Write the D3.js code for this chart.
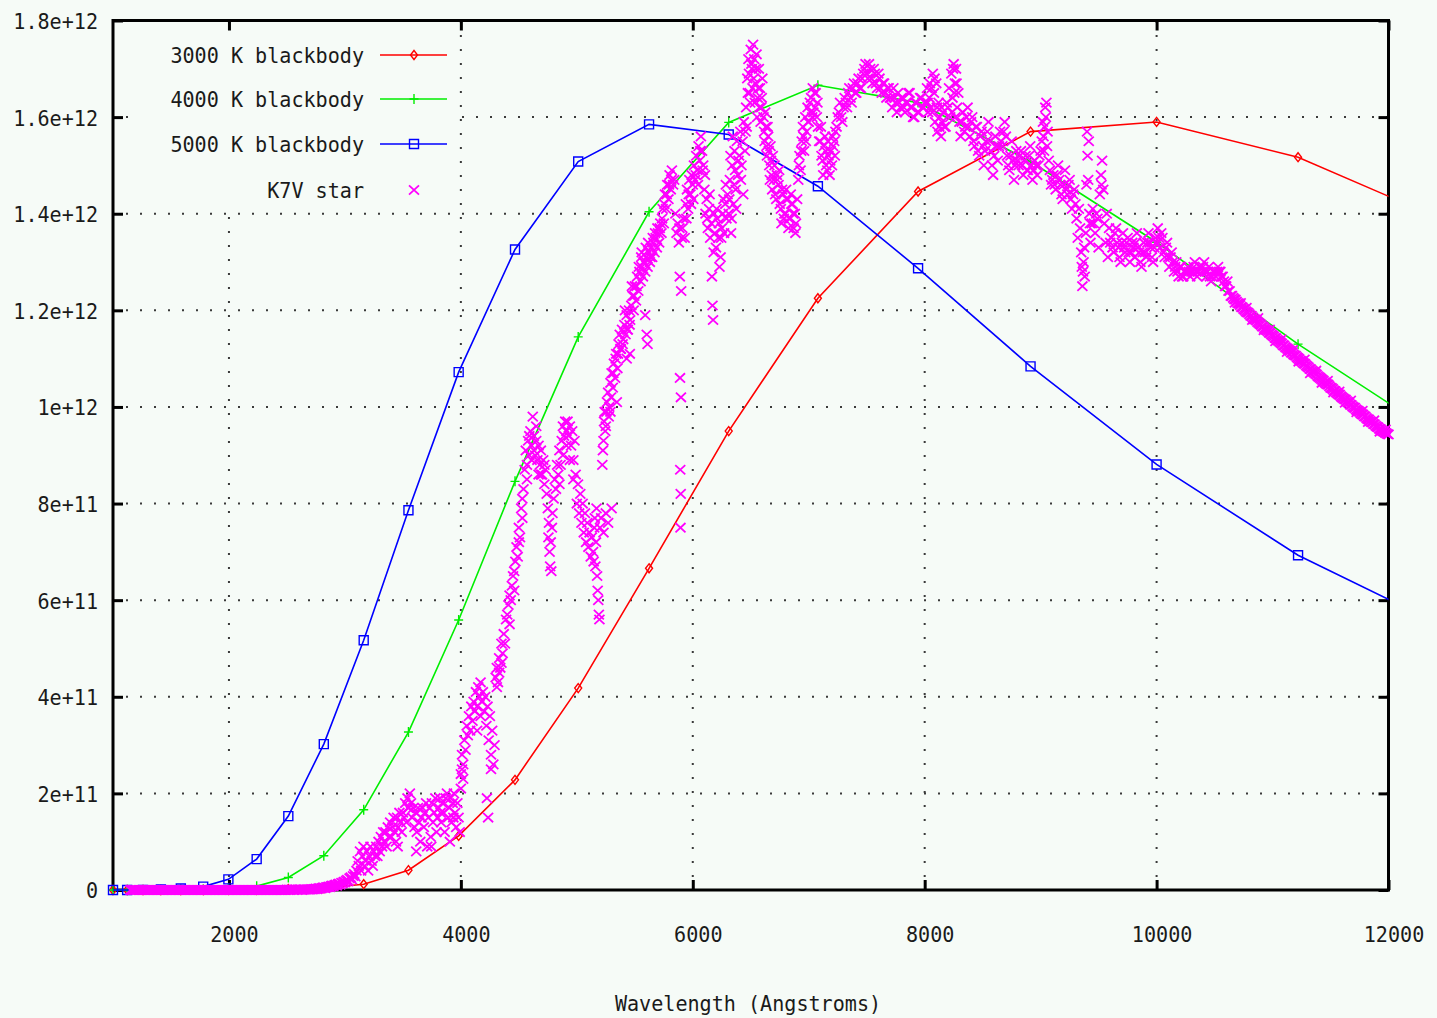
<!DOCTYPE html>
<html><head><meta charset="utf-8">
<script src="https://cdn.jsdelivr.net/npm/d3@7"></script>
<style>html,body{margin:0;padding:0;background:#f6fbf7;}svg{display:block}</style>
</head><body>
<svg id="chart" width="1437" height="1018"></svg>
<script>
// ---------- data (flux in units of 1e10) ----------
const bbWave = [1000,1122,1259,1413,1585,1778,1995,2239,2512,2818,3162,3548,3981,4467,5012,5623,6310,7079,7943,8913,10000,11220,12589];
const bb3000 = [0,0,0,0,0,0,0.01,0.05,0.2,0.4,1.2,4.1,11.2,22.8,41.8,66.6,95.0,122.5,144.6,157.0,159.0,151.7,137.5];
const bb4000 = [0,0,0,0,0.03,0.1,0.3,0.8,2.6,7.1,16.6,32.7,55.9,84.6,114.5,140.4,158.9,166.6,163.0,150.8,134.1,113.0,91.6];
const bb5000 = [0,0,0.02,0.1,0.3,0.7,2.2,6.4,15.3,30.2,51.7,78.6,107.2,132.6,150.8,158.5,156.4,145.7,128.7,108.4,88.1,69.3,53.3];

const starUV = [
[1150,0],[1160,0],[1170,0],[1180,0],[1190,0],[1200,0],[1210,0],[1220,0],[1230,0],[1240,0],
[1250,0],[1260,0],[1270,0],[1280,0],[1290,0],[1300,0],[1310,0],[1320,0],[1330,0],[1340,0],
[1350,0],[1360,0],[1370,0],[1380,0],[1390,0],[1400,0],[1410,0],[1420,0],[1430,0],[1440,0],
[1450,0],[1460,0],[1470,0],[1480,0],[1490,0],[1500,0],[1510,0],[1520,0],[1530,0],[1540,0],
[1550,0],[1560,0],[1570,0],[1580,0],[1590,0],[1600,0],[1610,0],[1620,0],[1630,0],[1640,0],
[1650,0],[1660,0],[1670,0],[1680,0],[1690,0],[1700,0],[1710,0],[1720,0],[1730,0],[1740,0],
[1750,0],[1760,0],[1770,0],[1780,0],[1790,0],[1800,0],[1810,0],[1820,0],[1830,0],[1840,0],
[1850,0],[1860,0],[1870,0],[1880,0],[1890,0],[1900,0],[1910,0],[1920,0],[1930,0],[1940,0],
[1950,0],[1960,0],[1970,0],[1980,0],[1990,0],[2000,0],[2010,0],[2020,0],[2030,0],[2040,0],
[2050,0],[2060,0],[2070,0],[2080,0],[2090,0],[2100,0],[2110,0],[2120,0],[2130,0],[2140,0],
[2150,0],[2160,0],[2170,0],[2180,0],[2190,0],[2200,0],[2210,0],[2220,0],[2230,0],[2240,0],
[2250,0],[2260,0],[2270,0],[2280,0],[2290,0],[2300,0],[2310,0],[2320,0],[2330,0],[2340,0],
[2350,0],[2360,0],[2370,0],[2380,0],[2390,0],[2400,0],[2410,0],[2420,0],[2430,0],[2440,0],
[2450,0],[2460,0],[2470,0],[2480,0],[2490,0],[2500,0.1],[2510,0],[2520,0.1],[2530,0],[2540,0.1],
[2550,0.1],[2560,0],[2570,0.1],[2580,0.1],[2590,0],[2600,0.1],[2610,0.1],[2620,0.1],[2630,0],[2640,0.1],
[2650,0.1],[2660,0.1],[2670,0.1],[2680,0.1],[2690,0.1]
];

const starNearUV = [
[2700,0.1],[2710,0.2],[2720,0.1],[2730,0.2],[2740,0.2],[2750,0.3],[2760,0.2],[2770,0.3],[2780,0.4],[2790,0.3],
[2800,0.4],[2810,0.5],[2820,0.5],[2830,0.4],[2840,0.6],[2850,0.6],[2860,0.7],[2870,0.6],[2880,0.8],[2890,0.9],
[2900,0.8],[2910,1.0],[2920,1.1],[2930,0.9],[2940,1.2],[2950,1.3],[2960,1.1],[2970,1.5],[2980,1.4],[2990,1.7],
[3000,1.6],[3010,1.9],[3020,2.1],[3030,1.8],[3040,2.4],[3050,2.6],[3060,2.2],[3070,2.9],[3080,3.3],[3090,2.8],
[3100,4],[3110,6],[3120,5],[3130,8],[3140,4],[3150,7],[3160,9],[3170,5],[3180,6],[3190,8],
[3200,4],[3210,7],[3220,9],[3230,6],[3240,5],[3250,8],[3260,7],[3270,9],[3280,7],[3290,10],
[3300,8],[3310,11],[3320,9],[3330,12],[3340,10],
[3350,12],[3360,9],[3370,13],[3380,11],[3390,14],[3400,11],[3410,13],[3420,15],[3430,12],[3440,10],
[3450,15],[3460,13],[3470,16],[3480,14],[3490,12],[3500,16],[3510,15],[3520,18],[3530,14],[3540,19],
[3550,17],[3560,20],[3570,18],[3580,15],[3590,17],[3600,13],[3610,16],[3620,12],[3630,17],[3640,14],
[3650,10],[3660,15],[3670,17],[3680,13],[3690,16],[3700,18],[3710,9],[3720,15],[3730,17],[3740,11],
[3750,18],[3760,14],[3770,16],[3780,19],[3790,12],[3800,15],[3810,17],[3820,19],[3830,14],[3840,18],
[3850,16],[3860,12],[3870,19],[3880,20],[3890,15],[3900,17],[3910,19],[3920,14],[3930,18],[3940,20],
[3950,16],[3960,13],[3970,18],[3980,15],[3990,12],
[3455,9],[3615,8],[3745,9],[3905,10],[3545,17],[3825,16],[3935,15]
];

const starBlue = [
[4000,24],[4010,28],[4020,26],[4030,31],[4040,29],[4050,34],[4060,32],[4070,36],[4080,33],[4090,38],
[4100,35],[4110,39],[4120,37],[4130,41],[4140,38],[4150,42],[4160,40],[4170,43],[4180,39],[4190,41],
[4200,37],[4210,40],[4220,34],[4230,38],[4240,31],[4250,36],[4260,28],[4270,33],[4280,26],[4290,30],
[4000,21],[4010,25],[4020,23],[4140,33],[4170,36],[4260,25],[4225,19],[4235,15],
[4300,44],[4310,46],[4320,43],[4330,48],[4340,46],[4350,51],[4360,49],[4370,53],[4380,51],[4390,56],
[4310,42],[4330,45],[4350,47],
[4400,57],[4410,59],[4420,61],[4430,60],[4440,63],[4450,65],[4460,62],[4470,68],[4480,71],[4490,69],
[4500,75],[4510,73],[4520,79],[4530,77],[4540,83],[4420,55],[4460,66],[4500,72],[4530,81],
[4550,87],[4560,91],[4570,88],[4580,93],[4590,90],[4600,95],[4610,92],[4620,98],[4630,94],[4640,90],
[4650,93],[4660,89],[4670,92],[4680,88],[4690,91],[4700,86],[4710,89],[4720,84],[4730,87],[4740,82],
[4570,85],[4590,94],[4610,89],[4630,91],[4650,96],[4670,86],[4690,86],[4720,88],
[4750,79],[4755,73],[4760,76],[4765,70],[4770,67],[4775,72],[4780,66],[4785,75],[4790,78],
[4800,81],[4810,85],[4820,83],[4830,88],[4840,86],[4850,91],[4860,88],[4870,93],[4880,96],[4890,94],
[4900,97],[4910,95],[4920,97],[4930,94],[4940,96],[4950,92],[4960,95],[4970,89],[4980,93],[4990,86],
[4850,84],[4880,90],[4910,92],[4940,89],[4970,85],
[5000,80],[5010,84],[5020,78],[5030,82],[5040,76],[5050,80],[5060,74],[5070,78],[5080,72],[5090,76],
[5100,71],[5110,74],[5120,69],[5130,73],[5140,70],[5150,75],[5160,67],[5170,79],[5180,62],[5190,57],[5200,75],
[5185,60],[5195,56],[5175,65],[5165,72],[5155,77],[5145,68],
[5210,77],[5230,74],[5250,78],[5270,76],[5300,79]
];

const starGreen = [
[5220,88],[5230,93],[5240,99],[5250,96],[5260,101],[5270,103],[5280,100],[5290,105],[5300,107],[5310,104],
[5320,109],[5330,106],[5340,111],[5350,108],[5360,113],[5370,115],[5380,112],[5390,116],
[5400,114],[5410,117],[5420,115],[5430,119],[5440,116],[5450,120],[5460,118],[5470,121],[5480,123],[5490,120],
[5500,125],[5510,122],[5520,127],[5530,124],[5540,128],[5550,126],[5560,129],[5570,127],[5580,130],[5590,128],
[5600,131],[5610,129],[5620,132],[5630,130],[5640,133],[5650,131],[5660,134],[5670,132],[5680,135],[5690,133],
[5700,136],[5710,134],[5720,138],[5730,136],[5740,141],[5750,138],[5760,144],[5770,141],[5780,146],[5790,143],
[5800,148],[5810,145],[5820,149],[5830,146],[5840,147],
[5225,91],[5235,97],[5245,95],[5255,99],[5275,98],[5295,102],[5315,107],[5335,110],[5355,111],[5375,112],
[5395,113],[5415,120],[5435,116],[5455,117],[5475,125],[5495,123],[5515,125],[5535,129],[5555,131],[5575,130],
[5595,133],[5615,134],[5635,131],[5655,135],[5675,136],[5695,137],[5715,137],[5735,139],[5755,142],[5775,144],
[5795,146],[5815,147],
[5290,99],[5345,101],[5457,111],[5590,119],[5603,115],[5560,132],[5610,113],[5430,110],
[5850,140],[5860,136],[5870,138],[5880,134],[5885,137],[5888,127],[5890,106],[5892,87],[5894,75],[5896,82],
[5898,102],[5900,124],[5905,135],[5910,137],[5920,139],[5930,135],
[5940,142],[5950,145],[5960,141],[5970,147],[5980,144],[5990,148],[6000,146],[6010,150],[6020,147],[6030,152],
[6040,149],[6050,154],[6060,151],[6070,156],[6080,153],[6090,150],
[5945,139],[5965,144],[5985,142],[6005,143],[6025,148],[6045,146],[6065,153],[6085,149],
[6100,145],[6110,140],[6120,143],[6130,137],[6140,141],[6150,135],[6160,138],[6165,127],[6170,121],[6175,118],
[6180,132],[6190,136],[6200,133],[6210,139],[6220,135],[6230,129],[6240,131],[6250,137],[6260,140],[6270,136],
[6280,142],[6290,139],[6300,144],
[6105,148],[6125,139],[6145,144],[6185,140],[6205,141],[6225,138],[6245,135],[6265,143],[6285,146]
];

const starRed = [
[6310,140],[6320,147],[6330,136],[6340,150],[6350,142],[6360,153],[6370,145],[6380,155],[6390,148],[6400,152],
[6410,157],[6420,150],[6430,155],[6440,159],[6450,153],
[6315,143],[6335,139],[6355,146],[6375,141],[6395,151],[6415,147],[6435,144],[6455,157],[6325,152],[6345,156],[6365,149],
[6460,162],[6470,168],[6480,172],[6490,165],[6500,174],[6510,170],[6520,175],[6530,172],[6540,167],[6550,173],
[6560,164],[6570,170],[6580,166],[6590,162],[6600,168],
[6465,158],[6475,165],[6485,169],[6495,163],[6505,171],[6515,166],[6525,168],[6535,163],[6545,170],[6555,160],
[6565,166],[6575,162],[6585,159],[6595,164],
[6610,160],[6620,155],[6630,158],[6640,152],[6650,156],[6660,150],[6670,154],[6680,148],[6690,152],
[6615,157],[6625,161],[6635,154],[6645,158],[6655,153],[6665,147],[6675,151],[6685,145],
[6700,147],[6710,144],[6720,143],[6730,147],[6740,146],[6750,142],[6760,141],[6770,145],[6780,144],[6790,140],
[6800,140],[6810,143],[6820,143],[6830,139],[6840,139],[6850,142],[6860,142],[6870,137],[6880,140],[6890,138],[6900,143],
[6705,150],[6725,148],[6745,149],[6765,138],[6785,139],[6805,145],[6825,137],[6845,144],[6865,140],[6885,136],
[6910,147],[6920,152],[6930,149],[6940,155],[6950,158],[6960,153],[6970,160],[6980,157],[6990,162],[7000,159],
[7010,163],[7020,164],[7030,160],[7040,161],[7050,165],[7060,165],[7070,160],[7080,158],[7090,155],
[6915,150],[6935,153],[6955,156],[6975,155],[6995,159],[7015,161],[7035,166],[7055,162],[7075,163],
[7100,155],[7110,152],[7120,151],[7130,154],[7140,156],[7150,150],[7160,149],[7170,152],[7180,148],[7190,153],
[7200,150],[7210,154],[7220,155],[7230,157],[7240,158],
[7105,158],[7125,148],[7145,153],[7165,155],[7185,151],[7205,156],[7225,152],
[7250,160],[7260,161],[7270,163],[7280,160],[7290,159],[7300,162],[7310,164],[7320,163],[7330,162],[7340,165],
[7350,166],[7360,164],[7370,163],[7380,166],[7390,167],[7400,165],[7410,165],[7420,167],[7430,168],[7440,166],
[7450,166],[7460,168],[7470,169],[7480,170],[7490,171],
[7500,169],[7510,168],[7520,171],[7530,170],[7540,168],[7550,167],[7560,170],[7570,169],[7580,167],[7590,166],
[7600,169],[7610,168],[7620,166],[7630,165],[7640,167],[7650,167],[7660,165],[7670,164],[7680,166],[7690,166],[7700,164],
[7710,164],[7720,162],[7730,166],[7740,164],[7750,163],[7760,161],[7770,165],[7780,163],[7790,162],[7800,164],
[7810,164],[7820,162],[7830,161],[7840,163],[7850,163],[7860,165],[7870,165],[7880,162],[7890,162],[7900,160],
[7910,160],[7920,163],[7930,163],[7940,161],[7950,161],[7960,164],[7970,164],[7980,162],[7990,162],[8000,163]
];

const starNearIR = [
[8010,163],[8020,166],[8030,161],[8040,164],[8050,162],[8060,166],[8070,169],[8080,165],[8090,159],[8100,167],
[8110,157],[8120,163],[8130,160],[8140,156],[8150,159],
[8025,163],[8045,167],[8065,161],[8085,168],[8105,162],[8125,158],[8145,162],
[8160,161],[8170,158],[8180,158],[8190,163],[8200,162],[8210,166],[8220,160],[8230,169],[8240,164],[8250,171],
[8260,167],[8270,170],[8280,162],[8290,165],[8300,159],
[8235,161],[8255,165],[8265,160],[8275,167],[8245,170],
[8310,156],[8320,159],[8330,161],[8340,157],[8350,158],[8360,160],[8370,162],[8380,158],[8390,156],[8400,159],
[8410,160],[8420,155],[8430,154],[8440,158],[8450,158],[8460,153],[8470,152],[8480,156],[8490,157],[8500,154],
[8510,150],[8520,153],[8530,155],[8540,157],[8550,159],[8560,155],[8570,153],[8580,150],[8590,148],[8600,152],
[8610,156],[8620,154],[8630,151],[8640,154],[8650,157],[8660,155],[8670,154],[8680,157],[8690,159],[8700,156],
[8710,152],[8720,150],[8730,149],[8740,152],[8750,155],[8760,151],[8770,147],[8780,150],[8790,153],[8800,151],
[8810,150],[8820,152],[8830,153],[8840,150],[8850,148],[8860,151],[8870,152],[8880,149],[8890,149],[8900,152],
[8910,154],[8920,150],[8930,147],[8940,149],[8950,151],[8960,150],[8970,148],[8980,150],[8990,152],[9000,153],
[9010,155],[9020,159],[9030,153],[9040,162],[9050,163],[9060,157],[9070,151],[9080,149],[9090,146],[9100,147],
[9025,156],[9045,160],[9035,158],[9055,154],
[9110,148],[9120,146],[9130,145],[9140,148],[9150,150],[9160,147],[9170,146],[9180,144],[9190,143],[9200,146],
[9210,149],[9220,145],[9230,144],[9240,146],[9250,147],[9260,143],[9270,141],[9280,144],[9290,145],[9300,142],
[9310,139],[9320,135],[9330,141],[9340,137],[9350,132],[9355,129],[9360,125],[9365,128],[9370,130],[9375,133],
[9380,127],[9390,136],[9395,146],[9400,157],[9405,152],[9410,147],[9415,155],[9420,140],[9425,138],[9430,134],[9440,138],
[9450,141],[9460,138],[9470,136],[9480,140],[9490,139],[9500,133],[9510,144],[9520,148],[9525,146],[9530,151],
[9540,145],[9550,138],[9560,134],[9570,140],[9580,131],[9590,137],[9600,134],
[9610,135],[9620,133],[9630,132],[9640,136],[9650,137],[9660,134],[9670,133],[9680,131],[9690,130],[9700,134],
[9710,136],[9720,133],[9730,132],[9740,134],[9750,135],[9760,132],[9770,130],[9780,132],[9790,134],[9800,133],
[9810,131],[9820,134],[9830,136],[9840,133],[9850,132],[9860,130],[9870,129],[9880,132],[9890,134],[9900,132],
[9910,131],[9920,134],[9930,136],[9940,134],[9950,133],[9960,131],[9970,130],[9980,133],[9990,135],[10000,134],
[10010,137],[10020,135],[10030,133],[10040,136],[10050,135],[10060,132],[10070,131],[10080,133],[10090,134],[10100,131],
[10110,129],[10120,131],[10130,132],[10140,130],[10150,128],[10160,129],[10170,130],[10180,128],[10190,127],[10200,129],
[10210,129],[10220,127],[10230,127],[10240,128],[10250,128],
[10260,128],[10270,129],[10280,128],[10290,127],[10300,128],[10310,128],[10320,129],[10330,130],[10340,128],[10350,127],
[10360,128],[10370,129],[10380,129],[10390,128],[10400,129],[10410,130],[10420,128],[10430,127],[10440,128],[10450,129],
[10460,127],[10470,126],[10480,127],[10490,128],[10500,128],[10510,127],[10520,128],[10530,129],[10540,128],[10550,128],
[10560,127],[10570,127],[10580,126],[10590,125],[10600,125],[10610,126],[10620,124],[10630,124],[10640,123],[10650,123]
];

const starIRTail = [
[10660,122.6],[10670,122.3],[10680,122.2],[10690,121.8],[10700,121.5],[10710,121.4],[10720,121.1],[10730,120.7],[10740,120.6],[10750,120.3],
[10760,120.1],[10770,119.8],[10780,119.6],[10790,119.5],[10800,119.2],[10810,118.9],[10820,118.8],[10830,118.5],[10840,118.2],[10850,118.1],
[10860,117.9],[10870,117.6],[10880,117.4],[10890,117.2],[10900,117.0],[10910,116.7],[10920,116.6],[10930,116.3],[10940,116.0],[10950,115.9],
[10960,115.7],[10970,115.4],[10980,115.3],[10990,115.0],[11000,114.8],[11010,114.6],[11020,114.3],[11030,114.2],[11040,113.9],[11050,113.7],
[11060,113.5],[11070,113.3],[11080,113.1],[11090,112.8],[11100,112.7],[11110,112.4],[11120,112.2],[11130,112.0],[11140,111.8],[11150,111.6],
[11160,111.3],[11170,111.2],[11180,110.9],[11190,110.7],[11200,110.6],[11210,110.3],[11220,110.1],[11230,109.9],[11240,109.6],[11250,109.5],
[11260,109.2],[11270,109.0],[11280,108.9],[11290,108.6],[11300,108.4],[11310,108.2],[11320,107.9],[11330,107.8],[11340,107.5],[11350,107.3],
[11360,107.1],[11370,106.9],[11380,106.7],[11390,106.4],[11400,106.2],[11410,106.0],[11420,105.8],[11430,105.6],[11440,105.4],[11450,105.1],
[11460,104.9],[11470,104.7],[11480,104.6],[11490,104.3],[11500,104.0],[11510,103.9],[11520,103.7],[11530,103.4],[11540,103.3],[11550,103.0],
[11560,102.8],[11570,102.6],[11580,102.5],[11590,102.2],[11600,102.0],[11610,101.8],[11620,101.6],[11630,101.5],[11640,101.2],[11650,101.0],
[11660,100.8],[11670,100.5],[11680,100.4],[11690,100.1],[11700,99.9],[11710,99.8],[11720,99.5],[11730,99.3],[11740,99.2],[11750,99.0],
[11760,98.7],[11770,98.5],[11780,98.4],[11790,98.1],[11800,98.0],[11810,97.7],[11820,97.5],[11830,97.4],[11840,97.1],[11850,96.9],
[11860,96.8],[11870,96.5],[11880,96.4],[11890,96.1],[11900,95.9],[11910,95.8],[11920,95.5],[11930,95.4],[11940,95.2],[11950,95.0],
[11960,94.9],[11970,94.7],[11980,94.6],[11990,94.4],[12000,94.3],
[10675,121.6],[10725,121.5],[10775,120.5],[10825,118.0],[10875,118.4],[10925,115.9],[10975,116.0],[11025,113.6],[11075,114.0],[11125,111.4],
[11175,111.8],[11225,109.4],[11275,109.8],[11325,107.0],[11375,107.5],[11425,105.0],[11475,105.4],[11525,103.0],[11575,103.2],[11625,100.9],
[11675,101.3],[11725,98.9],[11775,99.2],[11825,96.9],[11875,97.2],[11925,94.9],[11975,95.3]
];

const starData = [].concat(starUV, starNearUV, starBlue, starGreen, starRed, starNearIR, starIRTail);

const xTickValues = [2000,4000,6000,8000,10000,12000];
const xTickLabels = ["2000","4000","6000","8000","10000","12000"];
const yTickValues = [0,20,40,60,80,100,120,140,160,180];
const yTickLabels = ["0","2e+11","4e+11","6e+11","8e+11","1e+12","1.2e+12","1.4e+12","1.6e+12","1.8e+12"];
const seriesNames = ["3000 K blackbody","4000 K blackbody","5000 K blackbody","K7V star"];
const seriesColors = ["#ff0000","#00ee00","#0000ff","#ff00ff"];
const xTitle = "Wavelength (Angstroms)";

// ---------- layout ----------
const W = 1437, H = 1018;
const L = 113, R = 1388.5, T = 20.5, B = 890;
const BG = "#f6fbf7";
const FONT = "'DejaVu Sans Mono','Liberation Mono',monospace";
const FS = 21, CW = 12.1;

const x = d3.scaleLinear().domain([1000, 12000]).range([L, R]);
const y = d3.scaleLinear().domain([0, 180]).range([B, T]);

const svg = d3.select("#chart");
svg.append("rect").attr("width", W).attr("height", H).attr("fill", BG);

function styleText(sel) {
  sel.attr("font-family", FONT).attr("font-size", FS).attr("fill", "#1a1a1a")
     .attr("lengthAdjust", "spacingAndGlyphs")
     .attr("textLength", function () { return this.textContent.length * CW; });
}

// ---------- grid ----------
const grid = svg.append("g").attr("stroke", "#3a3a3a").attr("stroke-width", 2).attr("stroke-dasharray", "2,12");
grid.selectAll("line.v").data(xTickValues.filter(v => v < 12000)).join("line")
  .attr("class", "v").attr("x1", d => x(d)).attr("x2", d => x(d)).attr("y1", B - 13).attr("y2", T);
grid.selectAll("line.h").data(yTickValues.filter(v => v > 0 && v < 180)).join("line")
  .attr("class", "h").attr("y1", d => y(d)).attr("y2", d => y(d)).attr("x1", L + 13).attr("x2", R);

// opaque key area
svg.append("rect").attr("x", 135).attr("y", T + 2).attr("width", 323).attr("height", 186).attr("fill", BG);

// ---------- border ----------
svg.append("rect").attr("x", L).attr("y", T).attr("width", R - L).attr("height", B - T)
  .attr("fill", "none").attr("stroke", "#000").attr("stroke-width", 3);

// ---------- axes (inward ticks) ----------
function tidy(g) {
  g.select(".domain").remove();
  g.selectAll(".tick line").attr("stroke", "#000").attr("stroke-width", 3);
  g.attr("font-family", null).attr("font-size", null);
}
const gx = svg.append("g").attr("transform", `translate(0,${B})`)
  .call(d3.axisBottom(x).tickValues(xTickValues).tickSize(-10).tickSizeOuter(0)
        .tickFormat((d, i) => xTickLabels[i]));
tidy(gx);
gx.selectAll(".tick text").attr("y", 45).attr("dy", "0.35em").attr("x", 5)
  .attr("text-anchor", "middle").call(styleText);

const gxt = svg.append("g").attr("transform", `translate(0,${T})`)
  .call(d3.axisTop(x).tickValues(xTickValues).tickSize(-10).tickSizeOuter(0).tickFormat(""));
tidy(gxt);

const gy = svg.append("g").attr("transform", `translate(${L},0)`)
  .call(d3.axisLeft(y).tickValues(yTickValues).tickSize(-10).tickSizeOuter(0)
        .tickFormat((d, i) => yTickLabels[i]));
tidy(gy);
gy.selectAll(".tick text").attr("x", -15).attr("dy", "0.38em").attr("text-anchor", "end").call(styleText);

const gyr = svg.append("g").attr("transform", `translate(${R},0)`)
  .call(d3.axisRight(y).tickValues(yTickValues).tickSize(-10).tickSizeOuter(0).tickFormat(""));
tidy(gyr);

// ---------- markers ----------
function markerPath(kind, cx, cy) {
  const p = d3.path();
  if (kind === 0) {        // diamond
    p.moveTo(cx, cy - 4.5); p.lineTo(cx + 3.5, cy); p.lineTo(cx, cy + 4.5); p.lineTo(cx - 3.5, cy); p.closePath();
  } else if (kind === 1) { // plus
    p.moveTo(cx - 4.5, cy); p.lineTo(cx + 4.5, cy); p.moveTo(cx, cy - 5); p.lineTo(cx, cy + 5);
  } else if (kind === 2) { // square
    p.rect(cx - 4.5, cy - 4.5, 9, 9);
  } else {                 // cross
    p.moveTo(cx - 5, cy - 4.7); p.lineTo(cx + 5, cy + 4.7); p.moveTo(cx + 5, cy - 4.7); p.lineTo(cx - 5, cy + 4.7);
  }
  return p.toString();
}

// ---------- blackbody curves ----------
svg.append("defs").append("clipPath").attr("id", "plotclip")
  .append("rect").attr("x", L).attr("y", T - 2).attr("width", R - L).attr("height", B - T + 4);

const bbSeries = [bb3000, bb4000, bb5000];
const lineGen = d3.line().x(d => x(d[0])).y(d => y(d[1]));
bbSeries.forEach((vals, k) => {
  const pts = bbWave.map((w, i) => [w, vals[i]]);
  const g = svg.append("g");
  g.append("path").attr("d", lineGen(pts)).attr("fill", "none")
    .attr("stroke", seriesColors[k]).attr("stroke-width", 1.6).attr("clip-path", "url(#plotclip)");
  g.selectAll("path.m").data(pts.filter(p => p[0] <= 12000)).join("path").attr("class", "m")
    .attr("d", d => markerPath(k, x(d[0]), y(d[1])))
    .attr("fill", "none").attr("stroke", seriesColors[k]).attr("stroke-width", 1.4);
});

// ---------- star points ----------
svg.append("g").selectAll("path").data(starData).join("path")
  .attr("d", d => markerPath(3, x(d[0]), y(d[1])))
  .attr("fill", "none").attr("stroke", seriesColors[3]).attr("stroke-width", 1.8);

// ---------- legend ----------
const legendRows = [55, 99, 144, 190];
const lg = svg.append("g");
seriesNames.forEach((name, k) => {
  const cy = legendRows[k];
  lg.append("text").attr("x", 364).attr("y", cy).attr("dy", "0.36em").attr("text-anchor", "end")
    .text(name).call(styleText);
  if (k < 3) {
    lg.append("line").attr("x1", 380).attr("x2", 447).attr("y1", cy).attr("y2", cy)
      .attr("stroke", seriesColors[k]).attr("stroke-width", 1.6);
  }
  lg.append("path").attr("d", markerPath(k, 414, cy)).attr("fill", "none")
    .attr("stroke", seriesColors[k]).attr("stroke-width", k === 3 ? 1.8 : 1.4);
});

// ---------- axis title ----------
svg.append("text").attr("x", 748).attr("y", 1003).attr("dy", "0.36em").attr("text-anchor", "middle")
  .text(xTitle).call(styleText);
</script>
</body></html>
